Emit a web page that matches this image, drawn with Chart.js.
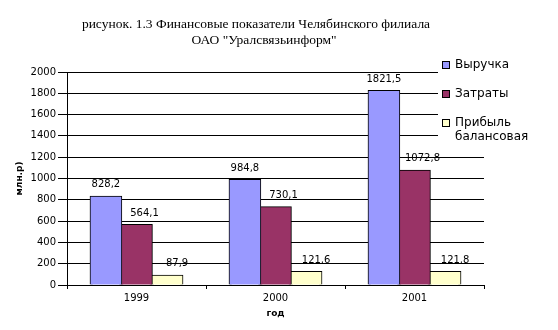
<!DOCTYPE html>
<html>
<head>
<meta charset="utf-8">
<script src="https://cdn.jsdelivr.net/npm/chart.js@4"></script>
<style>
  body { margin: 0; background: #fff; }
  #wrap { width: 558px; height: 330px; position: relative; }
</style>
</head>
<body>
<div id="wrap"><canvas id="chart"></canvas></div>
<script>
const years = ["1999", "2000", "2001"];
const revenue = [828.2, 984.8, 1821.5];
const costs = [564.1, 730.1, 1072.8];
const profit = [87.9, 121.6, 121.8];
const seriesNames = ["Выручка", "Затраты", "Прибыль балансовая"];
const titleLines = ["рисунок. 1.3 Финансовые показатели Челябинского филиала", "ОАО \"Уралсвязьинформ\""];

const fillColors = ["#9999ff", "#993366", "#ffffcc"];
const labelShift = [0, 8, 10]; // Excel draws the labels a bit to the right

// заголовок, легенда и подписи значений рисуем сами
const extras = {
  id: "extras",
  afterDatasetsDraw(chart) {
    const ctx = chart.ctx;
    ctx.save();
    ctx.fillStyle = "#000";
    ctx.font = "10px 'DejaVu Sans'";
    ctx.textAlign = "center";
    ctx.textBaseline = "middle";
    chart.data.datasets.forEach((ds, i) => {
      chart.getDatasetMeta(i).data.forEach((bar, j) => {
        const txt = ds.data[j].toFixed(1).replace(".", ",");
        ctx.fillText(txt, bar.x + labelShift[i], bar.y - 12);
      });
    });
    ctx.restore();
  },
  afterDraw(chart) {
    const ctx = chart.ctx;
    ctx.save();
    // title
    ctx.fillStyle = "#000";
    ctx.font = "13.5px 'Liberation Serif'";
    ctx.textAlign = "center";
    ctx.textBaseline = "middle";
    ctx.fillText(titleLines[0], 256, 24);
    ctx.fillText(titleLines[1], 264, 40);

    // legend box covers the grid lines
    ctx.fillStyle = "#fff";
    ctx.fillRect(438, 54, 120, 92);
    ctx.font = "12px 'DejaVu Sans'";
    ctx.textAlign = "left";
    const rows = [65, 94, 123];
    seriesNames.forEach((name, i) => {
      ctx.fillStyle = fillColors[i];
      ctx.fillRect(442, rows[i] - 4, 8, 8);
      ctx.strokeStyle = "#000";
      ctx.lineWidth = 1;
      ctx.strokeRect(442.5, rows[i] - 3.5, 7, 7);
      ctx.fillStyle = "#000";
      if (i === 2) {
        ctx.fillText("Прибыль", 455, rows[i]);
        ctx.fillText("балансовая", 455, rows[i] + 14);
      } else {
        ctx.fillText(name, 455, rows[i]);
      }
    });
    ctx.restore();
  }
};

new Chart(document.getElementById("chart"), {
  type: "bar",
  data: {
    labels: years,
    datasets: [revenue, costs, profit].map((vals, i) => ({
      label: seriesNames[i],
      data: vals,
      backgroundColor: fillColors[i],
      borderColor: "#000",
      borderWidth: 1,
      inflateAmount: 1,
      categoryPercentage: 0.66,
      barPercentage: 1.0
    }))
  },
  options: {
    responsive: true,
    maintainAspectRatio: false,
    animation: false,
    layout: { padding: { left: 0, right: 74, top: 72, bottom: 0 } },
    plugins: {
      legend: { display: false },
      tooltip: { enabled: false }
    },
    scales: {
      x: {
        grid: { drawOnChartArea: false, color: "#000", tickLength: 4, offset: true },
        border: { color: "#000" },
        ticks: { color: "#000", font: { family: "DejaVu Sans", size: 10 }, padding: 3 },
        title: {
          display: true,
          text: "год",
          color: "#000",
          font: { family: "DejaVu Sans", size: 9, weight: "bold" },
          padding: { top: 2, bottom: 11 }
        },
        afterFit(scale) { scale.height = 45; }
      },
      y: {
        min: 0,
        max: 2000,
        ticks: {
          stepSize: 200,
          color: "#000",
          font: { family: "DejaVu Sans", size: 10 },
          padding: 2,
          callback: (v) => String(v)
        },
        grid: { color: "#000", tickLength: 9 },
        border: { color: "#000" },
        title: {
          display: true,
          text: "млн.р)",
          color: "#000",
          font: { family: "DejaVu Sans", size: 9, weight: "bold" },
          padding: { top: 14, bottom: 0 }
        },
        afterFit(scale) { scale.width = 67; }
      }
    }
  },
  plugins: [extras]
});
</script>
</body>
</html>
